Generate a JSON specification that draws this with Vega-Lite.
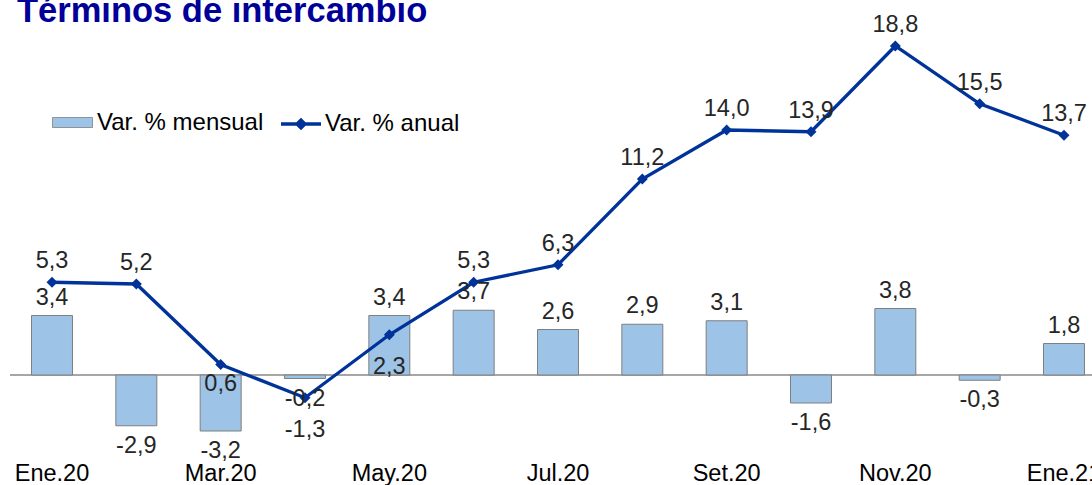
{
  "$schema": "https://vega.github.io/schema/vega-lite/v6.json",
  "autosize": "none",
  "width": 1096,
  "height": 390,
  "padding": {"left": 10, "top": 60, "right": 0, "bottom": 35},
  "background": "white",
  "title": {
    "text": "Términos de intercambio",
    "anchor": "start",
    "frame": "group",
    "fontSize": 34.5,
    "fontWeight": "bold",
    "color": "#000099",
    "font": "Liberation Sans",
    "baseline": "alphabetic",
    "offset": -44,
    "dx": 7
  },
  "config": {
    "font": "Liberation Sans",
    "view": {"stroke": null},
    "locale": {
      "number": {"decimal": ",", "thousands": ".", "grouping": [3], "currency": ["", ""], "minus": "-"}
    },
    "legend": {
      "title": null,
      "orient": "none",
      "direction": "horizontal",
      "labelFontSize": 24,
      "labelColor": "#000000",
      "labelFont": "Liberation Sans",
      "labelLimit": 400,
      "symbolSize": 1600,
      "padding": 0
    }
  },
  "data": {
    "values": [
      {"mes": "Ene.20", "mensual": 3.4, "anual": 5.3},
      {"mes": "Feb.20", "mensual": -2.9, "anual": 5.2},
      {"mes": "Mar.20", "mensual": -3.2, "anual": 0.6},
      {"mes": "Abr.20", "mensual": -0.2, "anual": -1.3},
      {"mes": "May.20", "mensual": 3.4, "anual": 2.3},
      {"mes": "Jun.20", "mensual": 3.7, "anual": 5.3},
      {"mes": "Jul.20", "mensual": 2.6, "anual": 6.3},
      {"mes": "Ago.20", "mensual": 2.9, "anual": 11.2},
      {"mes": "Set.20", "mensual": 3.1, "anual": 14.0},
      {"mes": "Oct.20", "mensual": -1.6, "anual": 13.9},
      {"mes": "Nov.20", "mensual": 3.8, "anual": 18.8},
      {"mes": "Dic.20", "mensual": -0.3, "anual": 15.5},
      {"mes": "Ene.21", "mensual": 1.8, "anual": 13.7}
    ]
  },
  "encoding": {
    "x": {
      "field": "mes",
      "type": "nominal",
      "sort": null,
      "scale": {"paddingInner": 0.514, "paddingOuter": 0.255},
      "axis": {
        "title": null,
        "values": ["Ene.20", "Mar.20", "May.20", "Jul.20", "Set.20", "Nov.20", "Ene.21"],
        "labelAngle": 0,
        "labelFontSize": 23.5,
        "labelColor": "#000000",
        "labelPadding": 11,
        "ticks": false,
        "domain": false,
        "grid": false
      }
    }
  },
  "layer": [
    {
      "mark": {"type": "rule", "color": "#a6a6a6", "strokeWidth": 1},
      "encoding": {"x": null, "y": {"datum": 0, "type": "quantitative", "scale": {"domain": [-4.2857, 18.0], "nice": false, "zero": false}, "axis": null}}
    },
    {
      "mark": {"type": "bar", "stroke": "#7f7f7f", "strokeWidth": 1},
      "encoding": {
        "y": {"field": "mensual", "type": "quantitative", "scale": {"domain": [-4.2857, 18.0], "nice": false, "zero": false}, "axis": null},
        "fill": {
          "datum": "Var. % mensual",
          "type": "nominal",
          "scale": {"domain": ["Var. % mensual"], "range": ["#9dc3e6"]},
          "legend": {
            "legendX": 42,
            "legendY": 42,
            "labelOffset": 4,
            "symbolType": "M-1,-0.25H1V0.25H-1Z",
            "symbolStrokeColor": "#7f7f7f",
            "symbolStrokeWidth": 0.8
          }
        }
      }
    },
    {
      "mark": {"type": "line", "strokeWidth": 3.3},
      "encoding": {
        "y": {"field": "anual", "type": "quantitative"},
        "stroke": {
          "datum": "Var. % anual",
          "type": "nominal",
          "scale": {"domain": ["Var. % anual"], "range": ["#003399"]},
          "legend": {
            "legendX": 269,
            "legendY": 42,
            "labelOffset": 2,
            "symbolType": "M-1,0H1M-0.2,0L0,-0.2L0.2,0L0,0.2Z",
            "symbolFillColor": "#003399",
            "symbolStrokeWidth": 3.3
          }
        }
      }
    },
    {
      "mark": {"type": "point", "shape": "diamond", "filled": true, "size": 120, "opacity": 1, "color": "#003399"},
      "encoding": {
        "y": {"field": "anual", "type": "quantitative"}
      }
    },
    {
      "transform": [{"filter": "datum.mensual >= 0"}],
      "mark": {"type": "text", "fontSize": 23.5, "color": "#262626", "baseline": "middle", "dy": -18},
      "encoding": {
        "y": {"field": "mensual", "type": "quantitative"},
        "text": {"field": "mensual", "type": "quantitative", "format": ".1f"}
      }
    },
    {
      "transform": [{"filter": "datum.mensual < 0"}],
      "mark": {"type": "text", "fontSize": 23.5, "color": "#262626", "baseline": "middle", "dy": 20},
      "encoding": {
        "y": {"field": "mensual", "type": "quantitative"},
        "text": {"field": "mensual", "type": "quantitative", "format": ".1f"}
      }
    },
    {
      "transform": [{"filter": "datum.mes !== 'Mar.20' && datum.mes !== 'Abr.20' && datum.mes !== 'May.20'"}],
      "mark": {"type": "text", "fontSize": 23.5, "color": "#262626", "baseline": "middle", "dy": -21},
      "encoding": {
        "y": {"field": "anual", "type": "quantitative"},
        "text": {"field": "anual", "type": "quantitative", "format": ".1f"}
      }
    },
    {
      "transform": [{"filter": "datum.mes === 'Abr.20' || datum.mes === 'May.20'"}],
      "mark": {"type": "text", "fontSize": 23.5, "color": "#262626", "baseline": "middle", "dy": 32},
      "encoding": {
        "y": {"field": "anual", "type": "quantitative"},
        "text": {"field": "anual", "type": "quantitative", "format": ".1f"}
      }
    },
    {
      "transform": [{"filter": "datum.mes === 'Mar.20'"}],
      "mark": {"type": "text", "fontSize": 23.5, "color": "#262626", "baseline": "middle", "dy": 19},
      "encoding": {
        "y": {"field": "anual", "type": "quantitative"},
        "text": {"field": "anual", "type": "quantitative", "format": ".1f"}
      }
    }
  ]
}
